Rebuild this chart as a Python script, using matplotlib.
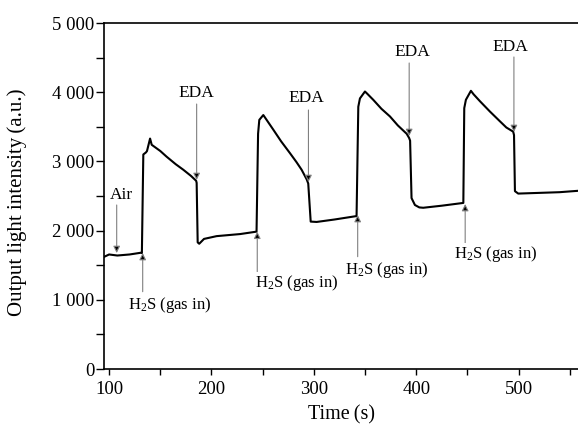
import matplotlib
matplotlib.use("Agg")
import matplotlib.pyplot as plt
from matplotlib.ticker import MultipleLocator, FuncFormatter

plt.rcParams['font.family'] = ['Liberation Serif', 'DejaVu Serif']
plt.rcParams['mathtext.fontset'] = 'custom'
plt.rcParams['mathtext.rm'] = 'Liberation Serif'
plt.rcParams['mathtext.it'] = 'Liberation Serif:italic'

# ---- data ----
time_s = [95, 100, 108, 120, 131, 132, 133.4, 136, 137, 140, 141.6, 150, 156, 165,
          172.4, 180, 185, 185.5, 186.5, 188, 192.7, 205, 228, 244,
          245.5, 246.7, 250.6, 252, 260.3, 268, 276.6, 283, 288, 293, 294.5,
          296.9, 302.7, 320, 341.7,
          343.4, 345, 349.9, 352, 358, 366, 374.3, 382, 390.6, 393, 394,
          395.4, 398.7, 403, 406.8, 425, 446,
          446.9, 448.5, 453.4, 456, 462.2, 472, 481.7, 488, 494.7, 495.5,
          496.4, 499.6, 520, 540, 558]
intensity = [1620, 1655, 1640, 1655, 1680, 1675, 3100, 3130, 3150, 3330, 3240, 3150, 3070, 2960,
             2880, 2790, 2720, 2690, 1830, 1810, 1880, 1920, 1950, 1985,
             3400, 3600, 3670, 3640, 3460, 3290, 3120, 2990, 2880, 2740, 2680,
             2130, 2125, 2160, 2210,
             3790, 3910, 4010, 3980, 3890, 3760, 3650, 3520, 3400, 3340, 3300,
             2470, 2370, 2335, 2330, 2360, 2400,
             3770, 3890, 4020, 3970, 3870, 3720, 3580, 3490, 3430, 3380,
             2570, 2535, 2545, 2555, 2575]

# annotations: label, text position, arrow tail, arrow tip
eda_x = [185.5, 294.7, 393.1, 495.4]
eda_tail_y = [3829, 3743, 4422, 4509]
eda_tip_y = [2731, 2702, 3367, 3425]
eda_text_x = [185.5, 292.3, 396.4, 491.5]
eda_text_y = [3993, 3912, 4585, 4657]

h2s_x = [132.8, 244.7, 342.8, 447.8]
h2s_tail_y = [1117, 1406, 1623, 1816]
h2s_tip_y = [1676, 1984, 2225, 2384]
h2s_text_x = [159.5, 283.5, 371.0, 477.8]
h2s_text_y = [925, 1243, 1431, 1662]

air_x, air_tail_y, air_tip_y = 107.4, 2370, 1676
air_text_x, air_text_y = 112.3, 2514

fig = plt.figure(figsize=(5.78, 4.24), dpi=100)
ax = fig.add_axes([104/578, 1-369/424, 1-104/578, (369-23)/424])

ax.plot(time_s, intensity, color='black', lw=1.5, solid_joinstyle='round')

ax.set_xlim(95, 558)
ax.set_ylim(0, 5000)
ax.spines['right'].set_visible(False)
for s in ['left', 'bottom', 'top']:
    ax.spines[s].set_linewidth(1.2)

ax.xaxis.set_major_locator(MultipleLocator(100))
ax.xaxis.set_minor_locator(MultipleLocator(50))
ax.yaxis.set_major_locator(MultipleLocator(1000))
ax.yaxis.set_minor_locator(MultipleLocator(500))
ax.yaxis.set_major_formatter(FuncFormatter(lambda v, p: f"{int(v):,}".replace(",", " ")))
ax.tick_params(which='both', direction='out', width=1.0, labelsize=13.5)
ax.tick_params(axis='y', which='both', length=6, pad=1)
ax.tick_params(axis='x', which='both', length=4, pad=5)
ax.tick_params(top=False, right=False)

ax.set_xlabel('Time\u2009(s)', fontsize=14.5, labelpad=5)
ax.set_ylabel('Output light intensity\u2009(a.u.)', fontsize=15)
ax.yaxis.set_label_coords(-0.162, 0.481)

arrow_kw = dict(arrowstyle='-|>', ec='0.5', fc='black', lw=0.8, mutation_scale=10,
                shrinkA=0, shrinkB=0)
bbox_kw = dict(facecolor='white', edgecolor='none', pad=1)

for x, ty, tp, tx, tyy in zip(eda_x, eda_tail_y, eda_tip_y, eda_text_x, eda_text_y):
    ax.annotate('', xy=(x, tp), xytext=(x, ty), arrowprops=arrow_kw)
    ax.text(tx, tyy, 'EDA', ha='center', va='center', fontsize=12.5, bbox=bbox_kw)

for x, ty, tp, tx, tyy in zip(h2s_x, h2s_tail_y, h2s_tip_y, h2s_text_x, h2s_text_y):
    ax.annotate('', xy=(x, tp), xytext=(x, ty), arrowprops=arrow_kw)
    ax.text(tx, tyy, r'H$_2$S (gas in)', ha='center', va='center', fontsize=12, bbox=bbox_kw)

ax.annotate('', xy=(air_x, air_tip_y), xytext=(air_x, air_tail_y), arrowprops=arrow_kw)
ax.text(air_text_x, air_text_y, 'Air', ha='center', va='center', fontsize=12.5, bbox=bbox_kw)

fig.savefig('out.png', dpi=100)
